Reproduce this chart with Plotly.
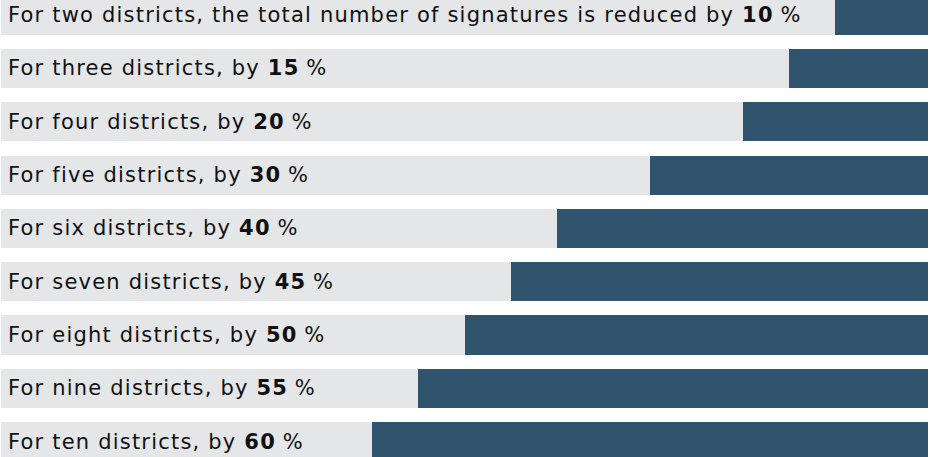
import plotly.graph_objects as go

labels = ["For two districts, the total number of signatures is reduced by",
          "For three districts, by",
          "For four districts, by",
          "For five districts, by",
          "For six districts, by",
          "For seven districts, by",
          "For eight districts, by",
          "For nine districts, by",
          "For ten districts, by"]
reductions = [10, 15, 20, 30, 40, 45, 50, 55, 60]

GREY = "#e5e6e8"
DARK = "#30536e"

ys = list(range(len(labels)))
fig = go.Figure()
fig.add_trace(go.Bar(
    orientation="h", y=ys, x=[100] * len(ys), base=[0] * len(ys),
    marker=dict(color=GREY, line=dict(width=0)), width=0.732,
    hoverinfo="skip", showlegend=False))
fig.add_trace(go.Bar(
    orientation="h", y=ys, x=reductions, base=[100 - v for v in reductions],
    marker=dict(color=DARK, line=dict(width=0)), width=0.732,
    hoverinfo="skip", showlegend=False))

for i, (lab, v) in enumerate(zip(labels, reductions)):
    fig.add_annotation(
        x=0, y=i, xref="x", yref="y", xanchor="left", yanchor="middle",
        xshift=5, yshift=0, showarrow=False,
        text=(f"<span style='letter-spacing:1.2px'>{lab} <b>{v}</b></span>"
              f"<span style='letter-spacing:0px'> %</span>"),
        font=dict(family="DejaVu Sans, sans-serif", size=21, color="#111111"))

fig.update_layout(
    width=930, height=457,
    margin=dict(l=1, r=2, t=0, b=0),
    paper_bgcolor="white", plot_bgcolor="white",
    barmode="overlay", bargap=0,
    xaxis=dict(range=[0, 100], visible=False, fixedrange=True),
    yaxis=dict(range=[8.289, -0.285], visible=False, fixedrange=True),
)
fig.write_html("out.html")
